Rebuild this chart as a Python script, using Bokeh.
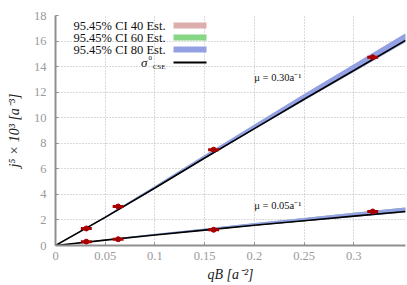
from bokeh.plotting import figure
from bokeh.models import Range1d, Label, BoxAnnotation, FixedTicker
from bokeh.embed import file_html
from bokeh.resources import INLINE

# ---- data ----
qb_points = [0.031, 0.063, 0.159, 0.319]
j5_mu030 = [1.33, 3.05, 7.50, 14.73]
j5_mu005 = [0.30, 0.49, 1.23, 2.66]
qb_err = [0.0055, 0.0055, 0.0055, 0.0055]

qb_curve = [0.0, 0.05, 0.10, 0.15, 0.20, 0.25, 0.30, 0.352]
cse_mu030 = [0.0, 2.20, 4.50, 6.85, 9.15, 11.45, 13.70, 16.05]
cse_mu005 = [0.0, 0.42, 0.82, 1.20, 1.58, 1.94, 2.30, 2.66]

ci80_mu030_lo = [0.0, 2.18, 4.46, 6.79, 9.07, 11.35, 13.58, 15.91]
ci80_mu030_hi = [0.0, 2.28, 4.66, 7.09, 9.47, 11.85, 14.18, 16.61]
ci60_mu030_lo = [0.0, 2.19, 4.47, 6.80, 9.09, 11.37, 13.60, 15.94]
ci60_mu030_hi = [0.0, 2.27, 4.64, 7.06, 9.44, 11.81, 14.13, 16.55]
ci40_mu030_lo = [0.0, 2.19, 4.48, 6.81, 9.10, 11.38, 13.62, 15.96]
ci40_mu030_hi = [0.0, 2.26, 4.62, 7.03, 9.40, 11.77, 14.08, 16.49]

ci80_mu005_lo = [0.0, 0.41, 0.80, 1.17, 1.54, 1.89, 2.24, 2.59]
ci80_mu005_hi = [0.0, 0.46, 0.91, 1.33, 1.76, 2.16, 2.57, 2.97]
ci60_mu005_lo = [0.0, 0.41, 0.80, 1.18, 1.55, 1.90, 2.25, 2.60]
ci60_mu005_hi = [0.0, 0.46, 0.90, 1.32, 1.75, 2.15, 2.56, 2.98]
ci40_mu005_lo = [0.0, 0.41, 0.81, 1.18, 1.55, 1.90, 2.26, 2.61]
ci40_mu005_hi = [0.0, 0.45, 0.89, 1.31, 1.73, 2.13, 2.54, 2.94]

x_ticks = [0, 0.05, 0.1, 0.15, 0.2, 0.25, 0.3]
x_tick_labels = ["0", "0.05", "0.1", "0.15", "0.2", "0.25", "0.3"]
y_ticks = [0, 2, 4, 6, 8, 10, 12, 14, 16, 18]

legend_labels = ["95.45% CI 40 Est.", "95.45% CI 60 Est.", "95.45% CI 80 Est."]
mu_labels = ["\u03bc = 0.30a\u207b\u00b9", "\u03bc = 0.05a\u207b\u00b9"]

# ---- style ----
FONT = "Liberation Serif"
PINK = "#dcaeae"
GREEN = "#86d686"
BLUE = "#93a1e4"
RED = "#a80000"
GRAY = "#8f8f8f"

p = figure(width=407, height=285, output_backend="svg", toolbar_location=None,
           x_range=Range1d(0, 0.352), y_range=Range1d(0, 18),
           min_border_left=55, min_border_right=2, min_border_top=15,
           min_border_bottom=40)
p.outline_line_color = None
p.background_fill_color = "white"
p.border_fill_color = "white"

# axes
for ax in (p.xaxis[0], p.yaxis[0]):
    ax.axis_line_color = GRAY
    ax.axis_line_width = 2
    ax.major_tick_in = 3
    ax.major_tick_out = 0
    ax.major_tick_line_color = GRAY
    ax.minor_tick_line_color = None
    ax.major_label_text_font = FONT
    ax.major_label_text_font_size = "12.5px"
    ax.major_label_text_color = "#9a9a9a"
    ax.axis_label_text_font = FONT
    ax.axis_label_text_font_size = "14px"
    ax.axis_label_text_font_style = "italic"
    ax.axis_label_text_color = "#222222"

p.xaxis.ticker = FixedTicker(ticks=x_ticks)
p.xaxis.major_label_overrides = {t: l for t, l in zip(x_ticks, x_tick_labels)}
p.yaxis.ticker = FixedTicker(ticks=y_ticks)
p.xaxis.major_label_standoff = 6
p.yaxis.major_label_standoff = 9
p.xaxis.axis_label = "qB [a\u207b\u00b2]"
p.yaxis.axis_label = "j\u2075 \u00d7 10\u00b3 [a\u207b\u00b3]"
p.xaxis.axis_label_standoff = 4
p.yaxis.axis_label_standoff = 9

for g in (p.xgrid[0], p.ygrid[0]):
    g.grid_line_color = "#b4b4b4"
    g.grid_line_dash = "1 2"
    g.grid_line_width = 1
p.xgrid.ticker = FixedTicker(ticks=x_ticks)
p.ygrid.ticker = FixedTicker(ticks=y_ticks)

# CI bands
for lo, hi, c in [(ci40_mu030_lo, ci40_mu030_hi, PINK),
                  (ci60_mu030_lo, ci60_mu030_hi, GREEN),
                  (ci80_mu030_lo, ci80_mu030_hi, BLUE),
                  (ci40_mu005_lo, ci40_mu005_hi, PINK),
                  (ci60_mu005_lo, ci60_mu005_hi, GREEN),
                  (ci80_mu005_lo, ci80_mu005_hi, BLUE)]:
    p.varea(x=qb_curve, y1=lo, y2=hi, fill_color=c, fill_alpha=1.0)

# theory curves
p.line(qb_curve, cse_mu030, line_color="black", line_width=1.6)
p.line(qb_curve, cse_mu005, line_color="black", line_width=1.6)

# data points with horizontal error bars
for ys in (j5_mu030, j5_mu005):
    x0 = [x - e for x, e in zip(qb_points, qb_err)]
    x1 = [x + e for x, e in zip(qb_points, qb_err)]
    p.segment(x0=x0, y0=ys, x1=x1, y1=ys, line_color=RED, line_width=3)
    p.scatter(qb_points, ys, size=5, fill_color=RED, line_color=RED)

# mu annotations
p.add_layout(Label(x=0.2, y=13.15, text=mu_labels[0], text_font=FONT,
                   text_font_size="10.5px", text_baseline="middle",
                   text_color="#111111"))
p.add_layout(Label(x=0.2, y=3.15, text=mu_labels[1], text_font=FONT,
                   text_font_size="10.5px", text_baseline="middle",
                   text_color="#111111"))

# custom legend (glyph to the right of right-aligned label)
rows_y = [220, 208, 196]
for lab, yy, c in zip(legend_labels, rows_y, [PINK, GREEN, BLUE]):
    p.add_layout(Label(x=110, y=yy, x_units="screen", y_units="screen",
                       text=lab, text_font=FONT, text_font_size="12.5px",
                       text_align="right", text_baseline="middle",
                       text_color="#111111"))
    p.add_layout(BoxAnnotation(left=118, right=151, bottom=yy - 3, top=yy + 3,
                               left_units="screen", right_units="screen",
                               bottom_units="screen", top_units="screen",
                               fill_color=c, fill_alpha=1.0, line_color=None))
p.add_layout(Label(x=92, y=183, x_units="screen", y_units="screen",
                   text="\u03c3", text_font=FONT, text_font_size="13px",
                   text_font_style="italic",
                   text_align="right", text_baseline="middle",
                   text_color="#111111"))
p.add_layout(Label(x=93, y=188, x_units="screen", y_units="screen",
                   text="0", text_font=FONT, text_font_size="7px",
                   text_align="left", text_baseline="middle",
                   text_color="#111111"))
p.add_layout(Label(x=110, y=179, x_units="screen", y_units="screen",
                   text="CSE", text_font=FONT, text_font_size="7px",
                   text_align="right", text_baseline="middle",
                   text_color="#111111"))
p.add_layout(BoxAnnotation(left=118, right=151, bottom=182, top=184,
                           left_units="screen", right_units="screen",
                           bottom_units="screen", top_units="screen",
                           fill_color="black", fill_alpha=1.0, line_color=None))

open("out.html", "w").write(file_html(p, INLINE))
